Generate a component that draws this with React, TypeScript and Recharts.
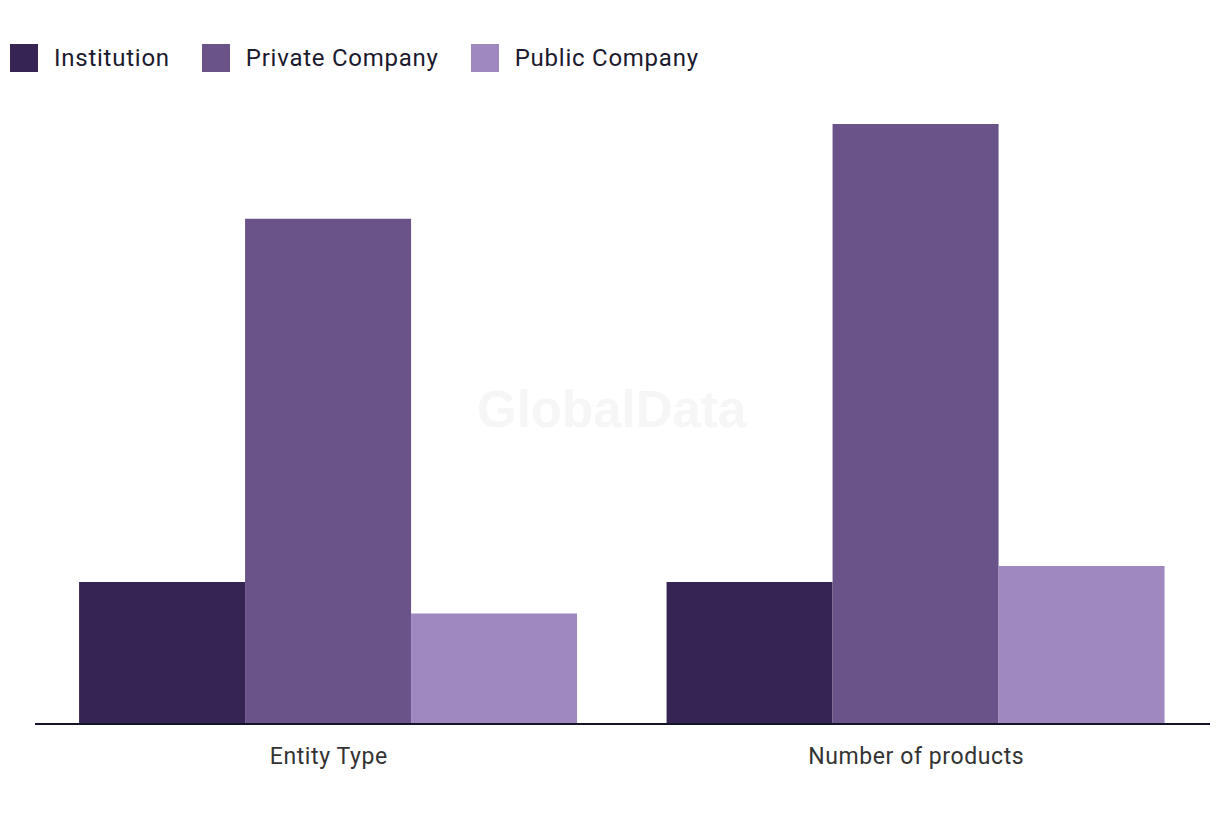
import { Bar, BarChart, XAxis, YAxis } from "recharts";

const categories = ["Entity Type", "Number of products"];
const institution = [9, 9];
const privateCompany = [32, 38];
const publicCompany = [7, 10];

const SERIES = [
  { key: "institution", name: "Institution", color: "#362454", values: institution },
  { key: "privateCompany", name: "Private Company", color: "#6a5389", values: privateCompany },
  { key: "publicCompany", name: "Public Company", color: "#9f88c0", values: publicCompany },
];

const data = categories.map((category, i) => {
  const row: Record<string, string | number> = { category };
  SERIES.forEach((s) => {
    row[s.key] = s.values[i];
  });
  return row;
});

const FONT = "Roboto, 'Liberation Sans', sans-serif";

export default function App() {
  return (
    <div
      style={{
        position: "absolute",
        left: 0,
        top: 0,
        width: 1220,
        height: 820,
        background: "#ffffff",
        fontFamily: FONT,
      }}
    >
      {/* faint watermark behind the bars */}
      <span
        style={{
          position: "absolute",
          left: 477,
          top: 380,
          fontFamily: "'Liberation Sans', Arial, sans-serif",
          fontWeight: 700,
          fontSize: 51,
          color: "#f6f6f6",
          pointerEvents: "none",
        }}
      >
        GlobalData
      </span>

      <div
        style={{
          position: "absolute",
          left: 10,
          top: 44,
          display: "flex",
          alignItems: "center",
        }}
      >
        {SERIES.map((s) => (
          <div
            key={s.key}
            style={{ display: "flex", alignItems: "center", marginRight: 32 }}
          >
            <span
              style={{
                width: 28,
                height: 28,
                backgroundColor: s.color,
                display: "inline-block",
                marginRight: 16,
              }}
            />
            <span style={{ fontSize: 24, color: "#1c1a2e", letterSpacing: 0.75 }}>
              {s.name}
            </span>
          </div>
        ))}
      </div>

      <div style={{ position: "absolute", left: 0, top: 0 }}>
        <BarChart
          width={1220}
          height={820}
          data={data}
          margin={{ top: 124, right: 10, bottom: 36, left: 35 }}
          barCategoryGap="7.5%"
          barGap={0}
        >
          <XAxis
            dataKey="category"
            height={60}
            tickLine={false}
            tickMargin={18}
            axisLine={{ stroke: "#15132a", strokeWidth: 2 }}
            tick={{ fill: "#333333", fontSize: 23, fontFamily: FONT, letterSpacing: 0.6 }}
          />
          <YAxis hide domain={[0, 38]} />
          {SERIES.map((s) => (
            <Bar
              key={s.key}
              dataKey={s.key}
              name={s.name}
              fill={s.color}
              isAnimationActive={false}
            />
          ))}
        </BarChart>
      </div>
    </div>
  );
}
